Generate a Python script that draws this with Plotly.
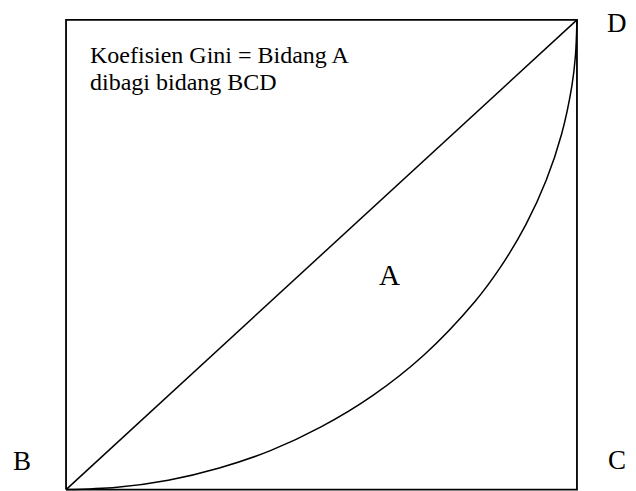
import plotly.graph_objects as go

# Kurva Lorenz (bagian penduduk kumulatif vs bagian pendapatan kumulatif)
penduduk = [0.0, 0.1, 0.2, 0.3, 0.4, 0.5, 0.6, 0.7, 0.8, 0.85, 0.9,
            0.94, 0.97, 0.99, 0.997, 1.0]
pendapatan = [0.0, 0.005, 0.02, 0.046, 0.083, 0.134, 0.2, 0.286, 0.4,
              0.473, 0.564, 0.659, 0.757, 0.859, 0.923, 1.0]

# Garis pemerataan sempurna B-D
garis_x = [0, 1]
garis_y = [0, 1]

# Kotak B-C-D
kotak_x = [0, 1, 1, 0, 0]
kotak_y = [0, 0, 1, 1, 0]

teks_1 = "Koefisien Gini = Bidang A"
teks_2 = "dibagi bidang BCD"

# posisi huruf sudut (paper)
sudut = {"B": (-0.082, 0.063), "C": (1.074, 0.065), "D": (1.074, 0.99)}

fuente = "Liberation Serif, Times New Roman, serif"

fig = go.Figure()

fig.add_trace(go.Scatter(x=kotak_x, y=kotak_y, mode="lines",
                         line=dict(color="black", width=1.8),
                         hoverinfo="skip"))
fig.add_trace(go.Scatter(x=garis_x, y=garis_y, mode="lines",
                         line=dict(color="black", width=1.5),
                         hoverinfo="skip"))
fig.add_trace(go.Scatter(x=penduduk, y=pendapatan, mode="lines",
                         line=dict(color="black", width=1.5, shape="spline"),
                         hoverinfo="skip"))

fig.add_annotation(x=0.043, y=0.926, text=teks_1, showarrow=False,
                   xanchor="left", yanchor="middle",
                   font=dict(family=fuente, size=24, color="black"))
fig.add_annotation(x=0.043, y=0.868, text=teks_2, showarrow=False,
                   xanchor="left", yanchor="middle",
                   font=dict(family=fuente, size=24, color="black"))
fig.add_annotation(x=0.634, y=0.457, text="A", showarrow=False,
                   xanchor="center", yanchor="middle",
                   font=dict(family=fuente, size=29, color="black"))

for h, (hx, hy) in sudut.items():
    fig.add_annotation(x=hx, y=hy, xref="paper", yref="paper", text=h,
                       showarrow=False, xanchor="center", yanchor="middle",
                       font=dict(family=fuente, size=27, color="black"))

fig.update_xaxes(range=[-0.004, 1.004], visible=False)
fig.update_yaxes(range=[-0.003, 1.004], visible=False)
fig.update_layout(width=636, height=491, showlegend=False,
                  margin=dict(l=56, r=65, t=10, b=8),
                  plot_bgcolor="white", paper_bgcolor="white")

fig.write_html("out.html")
